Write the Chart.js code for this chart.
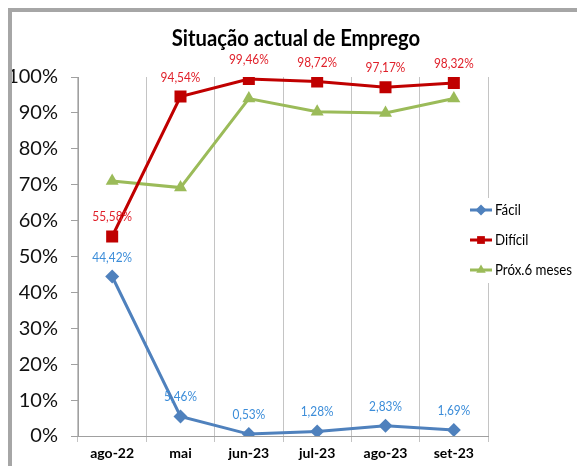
<!DOCTYPE html>
<html>
<head>
<meta charset="utf-8">
<script src="https://cdn.jsdelivr.net/npm/chart.js@4"></script>
<style>
  html, body { margin: 0; padding: 0; background: #fff; }
  #frame {
    position: absolute; left: 8px; top: 8px;
    width: 565px; height: 454px;
    border-left: 4px solid #a6a6a6; border-top: 4px solid #a6a6a6;
    background: #fff;
  }
  canvas { display: block; }
</style>
</head>
<body>
<div id="frame"><canvas id="chart" width="565" height="454"></canvas></div>
<script>
const FONT = "Lato, 'Open Sans', sans-serif";

const chartTitle = 'Situação actual de Emprego';
const months = ['ago-22', 'mai', 'jun-23', 'jul-23', 'ago-23', 'set-23'];
const facil = [44.42, 5.46, 0.53, 1.28, 2.83, 1.69];
const dificil = [55.58, 94.54, 99.46, 98.72, 97.17, 98.32];
const prox6 = [71.0, 69.2, 94.0, 90.3, 90.0, 94.0];
const yTicks = [0, 10, 20, 30, 40, 50, 60, 70, 80, 90, 100];

function fmtPct(v) {
  return v.toFixed(2).replace('.', ',') + '%';
}

// the original uses a narrow face; squeeze Lato horizontally to get close
function squeezedText(ctx, text, x, y, font, color, align, sx) {
  ctx.save();
  ctx.translate(x, y);
  ctx.scale(sx, 1);
  ctx.font = font;
  ctx.fillStyle = color;
  ctx.textAlign = align;
  ctx.textBaseline = 'middle';
  ctx.fillText(text, 0, 0);
  ctx.restore();
}

const titlePlugin = {
  id: 'titlePlugin',
  afterDraw(chart) {
    squeezedText(chart.ctx, chartTitle, 284, 27, 'bold 23px ' + FONT, '#000', 'center', 0.88);
  }
};

// value labels above the points (no datalabels plugin available)
const pointLabels = {
  id: 'pointLabels',
  afterDatasetsDraw(chart) {
    const ctx = chart.ctx;
    chart.data.datasets.forEach((ds, i) => {
      if (!ds.labelColor) return;
      const meta = chart.getDatasetMeta(i);
      meta.data.forEach((pt, j) => {
        squeezedText(ctx, fmtPct(ds.data[j]), pt.x, pt.y - 19, '12.5px ' + FONT, ds.labelColor, 'center', 0.95);
      });
    });
  }
};

// legend with line + marker, sitting over the right part of the plot
const sideLegend = {
  id: 'sideLegend',
  afterDraw(chart) {
    const ctx = chart.ctx;
    const x0 = 458, y0 = 198, gap = 30;
    ctx.save();
    ctx.fillStyle = '#fff';
    ctx.fillRect(x0 - 2, y0 - 12, 565 - x0 + 2, gap * 2 + 25);
    chart.data.datasets.forEach((ds, i) => {
      const y = y0 + i * gap;
      ctx.strokeStyle = ds.borderColor;
      ctx.lineWidth = 3;
      ctx.beginPath();
      ctx.moveTo(x0, y);
      ctx.lineTo(x0 + 22, y);
      ctx.stroke();
      ctx.fillStyle = ds.backgroundColor;
      Chart.helpers.drawPoint(ctx, { pointStyle: ds.pointStyle, radius: 5.5, rotation: 0, borderWidth: 0 }, x0 + 11, y);
      squeezedText(ctx, ds.label, x0 + 25, y, '16px ' + FONT, '#000', 'left', 0.83);
    });
    ctx.restore();
  }
};

new Chart(document.getElementById('chart'), {
  type: 'line',
  data: {
    labels: months,
    datasets: [
      { label: 'Fácil', data: facil, borderColor: '#4F81BD', backgroundColor: '#4F81BD',
        pointStyle: 'rectRot', pointRadius: 7, labelColor: '#3C8DD9' },
      { label: 'Difícil', data: dificil, borderColor: '#C00000', backgroundColor: '#C00000',
        pointStyle: 'rect', pointRadius: 8.5, labelColor: '#E0202A' },
      { label: 'Próx.6 meses', data: prox6, borderColor: '#9BBB59', backgroundColor: '#9BBB59',
        pointStyle: 'triangle', pointRadius: 7.5 }
    ]
  },
  options: {
    responsive: false,
    animation: false,
    elements: {
      line: { borderWidth: 3, tension: 0 },
      point: { borderWidth: 0 }
    },
    layout: { padding: { left: 0, right: 89, top: 65, bottom: 0 } },
    plugins: {
      legend: { display: false },
      tooltip: { enabled: false },
      title: { display: false }
    },
    scales: {
      x: {
        offset: true,
        grid: { offset: true, color: '#C4C4C4', tickLength: 6 },
        border: { color: '#A0A0A0' },
        ticks: { font: { family: FONT, size: 14, weight: 'bold' }, color: '#000', padding: 3 },
        afterFit: s => { s.height = 30; }
      },
      y: {
        min: 0, max: 100,
        afterBuildTicks: s => { s.ticks = yTicks.map(v => ({ value: v })); },
        ticks: { callback: v => v + '%', font: { family: FONT, size: 20 }, color: '#111', padding: 13 },
        grid: { drawOnChartArea: false, tickLength: 7, color: '#A0A0A0' },
        border: { color: '#A0A0A0' },
        afterFit: s => { s.width = 66; }
      }
    }
  },
  plugins: [pointLabels, sideLegend, titlePlugin]
});
</script>
</body>
</html>
